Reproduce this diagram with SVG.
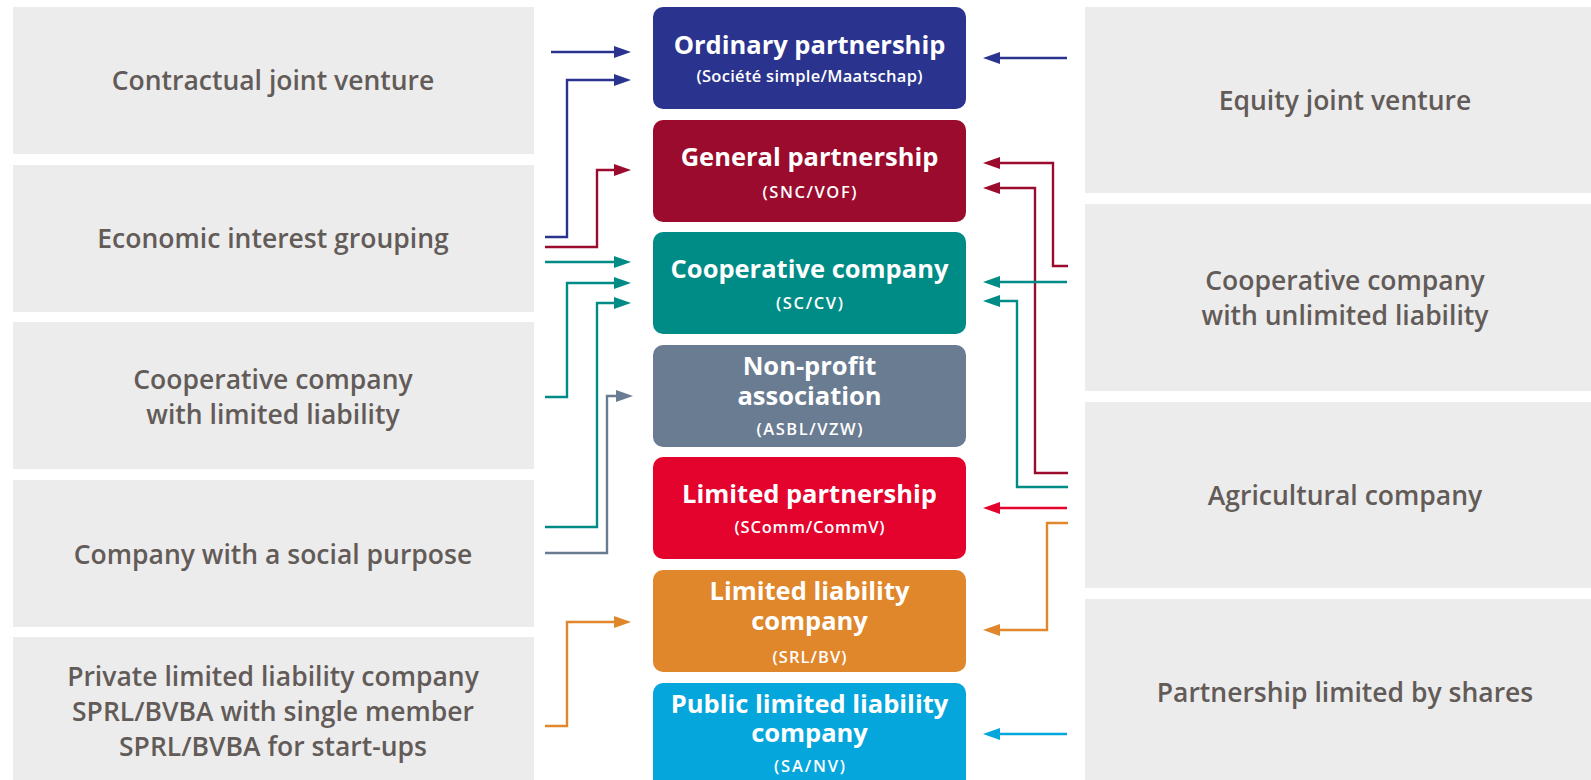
<svg xmlns="http://www.w3.org/2000/svg" width="1591" height="780" viewBox="0 0 1591 780">
  <style>
    .side { fill: #ececec; }
    .side-text { font-family: "Open Sans", "Noto Sans", sans-serif; font-weight: 600; font-size: 26.5px; fill: #625b58; text-anchor: middle; }
    .form-title { font-family: "Open Sans", "Noto Sans", sans-serif; font-weight: 700; font-size: 25.5px; fill: #ffffff; text-anchor: middle; }
    .form-sub { font-family: "Open Sans", "Noto Sans", sans-serif; font-weight: 600; font-size: 16.5px; fill: #ffffff; text-anchor: middle; }
    .link { fill: none; stroke-width: 2.4; }
    .c-blue { stroke: #2a348e; }
    .c-wine { stroke: #9a0b2d; }
    .c-teal { stroke: #008c86; }
    .c-slate { stroke: #6a7c92; }
    .c-red { stroke: #e3032d; }
    .c-orange { stroke: #e0862b; }
    .c-cyan { stroke: #05a6dc; }
  </style>
  <defs>
    <marker id="ah-blue" viewBox="0 0 17 12" refX="0" refY="6" markerWidth="17" markerHeight="12" markerUnits="userSpaceOnUse" orient="auto"><path d="M0,0 L17,6 L0,12 z" fill="#2a348e"/></marker>
    <marker id="ah-wine" viewBox="0 0 17 12" refX="0" refY="6" markerWidth="17" markerHeight="12" markerUnits="userSpaceOnUse" orient="auto"><path d="M0,0 L17,6 L0,12 z" fill="#9a0b2d"/></marker>
    <marker id="ah-teal" viewBox="0 0 17 12" refX="0" refY="6" markerWidth="17" markerHeight="12" markerUnits="userSpaceOnUse" orient="auto"><path d="M0,0 L17,6 L0,12 z" fill="#008c86"/></marker>
    <marker id="ah-slate" viewBox="0 0 17 12" refX="0" refY="6" markerWidth="17" markerHeight="12" markerUnits="userSpaceOnUse" orient="auto"><path d="M0,0 L17,6 L0,12 z" fill="#6a7c92"/></marker>
    <marker id="ah-red" viewBox="0 0 17 12" refX="0" refY="6" markerWidth="17" markerHeight="12" markerUnits="userSpaceOnUse" orient="auto"><path d="M0,0 L17,6 L0,12 z" fill="#e3032d"/></marker>
    <marker id="ah-orange" viewBox="0 0 17 12" refX="0" refY="6" markerWidth="17" markerHeight="12" markerUnits="userSpaceOnUse" orient="auto"><path d="M0,0 L17,6 L0,12 z" fill="#e0862b"/></marker>
    <marker id="ah-cyan" viewBox="0 0 17 12" refX="0" refY="6" markerWidth="17" markerHeight="12" markerUnits="userSpaceOnUse" orient="auto"><path d="M0,0 L17,6 L0,12 z" fill="#05a6dc"/></marker>
  </defs>

  <rect width="1591" height="780" fill="#ffffff"/>

  <!-- Left column: source forms -->
  <g id="contractual-jv">
    <rect class="side" x="13" y="7" width="521" height="147"/>
    <text class="side-text" x="273" y="90">Contractual joint venture</text>
  </g>
  <g id="eig">
    <rect class="side" x="13" y="165" width="521" height="147"/>
    <text class="side-text" x="273" y="248">Economic interest grouping</text>
  </g>
  <g id="coop-limited">
    <rect class="side" x="13" y="322" width="521" height="147"/>
    <text class="side-text" x="273" y="389">Cooperative company<tspan x="273" dy="35">with limited liability</tspan></text>
  </g>
  <g id="social-purpose">
    <rect class="side" x="13" y="480" width="521" height="147"/>
    <text class="side-text" x="273" y="564">Company with a social purpose</text>
  </g>
  <g id="private-llc">
    <rect class="side" x="13" y="637" width="521" height="150"/>
    <text class="side-text" x="273" y="686">Private limited liability company<tspan x="273" dy="35">SPRL/BVBA with single member</tspan><tspan x="273" dy="35">SPRL/BVBA for start-ups</tspan></text>
  </g>

  <!-- Right column: source forms -->
  <g id="equity-jv">
    <rect class="side" x="1085" y="7" width="520" height="186"/>
    <text class="side-text" x="1345" y="110">Equity joint venture</text>
  </g>
  <g id="coop-unlimited">
    <rect class="side" x="1085" y="204" width="520" height="187"/>
    <text class="side-text" x="1345" y="290">Cooperative company<tspan x="1345" dy="35">with unlimited liability</tspan></text>
  </g>
  <g id="agricultural">
    <rect class="side" x="1085" y="402" width="520" height="186"/>
    <text class="side-text" x="1345" y="505">Agricultural company</text>
  </g>
  <g id="partnership-shares">
    <rect class="side" x="1085" y="599" width="520" height="190"/>
    <text class="side-text" x="1345" y="702">Partnership limited by shares</text>
  </g>

  <!-- Centre column: target forms -->
  <g id="ordinary-partnership">
    <rect x="653" y="7" width="313" height="102" rx="10" fill="#2a348e"/>
    <text class="form-title" x="809.5" y="54">Ordinary partnership</text>
    <text class="form-sub" x="809.5" y="82" textLength="226">(Société simple/Maatschap)</text>
  </g>
  <g id="general-partnership">
    <rect x="653" y="120" width="313" height="102" rx="10" fill="#9a0b2d"/>
    <text class="form-title" x="809.5" y="166">General partnership</text>
    <text class="form-sub" x="809.5" y="198" textLength="94">(SNC/VOF)</text>
  </g>
  <g id="cooperative-company">
    <rect x="653" y="232" width="313" height="102" rx="10" fill="#008c86"/>
    <text class="form-title" x="809.5" y="278">Cooperative company</text>
    <text class="form-sub" x="809.5" y="309" textLength="67">(SC/CV)</text>
  </g>
  <g id="non-profit">
    <rect x="653" y="345" width="313" height="102" rx="10" fill="#6a7c92"/>
    <text class="form-title" x="809.5" y="375">Non-profit<tspan x="809.5" dy="30">association</tspan></text>
    <text class="form-sub" x="809.5" y="435" textLength="106">(ASBL/VZW)</text>
  </g>
  <g id="limited-partnership">
    <rect x="653" y="457" width="313" height="102" rx="10" fill="#e3032d"/>
    <text class="form-title" x="809.5" y="503">Limited partnership</text>
    <text class="form-sub" x="809.5" y="533" textLength="150">(SComm/CommV)</text>
  </g>
  <g id="limited-liability">
    <rect x="653" y="570" width="313" height="102" rx="10" fill="#e0862b"/>
    <text class="form-title" x="809.5" y="600">Limited liability<tspan x="809.5" dy="30">company</tspan></text>
    <text class="form-sub" x="809.5" y="663" textLength="74">(SRL/BV)</text>
  </g>
  <g id="public-limited">
    <rect x="653" y="683" width="313" height="110" rx="10" fill="#05a6dc"/>
    <text class="form-title" x="809.5" y="713">Public limited liability<tspan x="809.5" dy="29">company</tspan></text>
    <text class="form-sub" x="809.5" y="772" textLength="71">(SA/NV)</text>
  </g>

  <!-- Connectors -->
  <g id="connectors">
    <path class="link c-blue" d="M551,52 H614" marker-end="url(#ah-blue)"/>
    <path class="link c-blue" d="M545,237 H567 V80 H614" marker-end="url(#ah-blue)"/>
    <path class="link c-wine" d="M545,247 H597 V170 H614" marker-end="url(#ah-wine)"/>
    <path class="link c-teal" d="M545,262 H614" marker-end="url(#ah-teal)"/>
    <path class="link c-teal" d="M545,397 H567 V283 H614" marker-end="url(#ah-teal)"/>
    <path class="link c-teal" d="M545,527 H597 V303 H614" marker-end="url(#ah-teal)"/>
    <path class="link c-slate" d="M545,553 H607 V396 H616" marker-end="url(#ah-slate)"/>
    <path class="link c-orange" d="M545,726 H567 V622 H614" marker-end="url(#ah-orange)"/>

    <path class="link c-blue" d="M1067,58 H1000" marker-end="url(#ah-blue)"/>
    <path class="link c-wine" d="M1068,266 H1053 V163 H1000" marker-end="url(#ah-wine)"/>
    <path class="link c-wine" d="M1068,473 H1035 V188 H1000" marker-end="url(#ah-wine)"/>
    <path class="link c-teal" d="M1067,282 H1000" marker-end="url(#ah-teal)"/>
    <path class="link c-teal" d="M1068,487 H1017 V301 H1000" marker-end="url(#ah-teal)"/>
    <path class="link c-red" d="M1067,508 H1000" marker-end="url(#ah-red)"/>
    <path class="link c-orange" d="M1068,523 H1047 V630 H1000" marker-end="url(#ah-orange)"/>
    <path class="link c-cyan" d="M1067,734 H1000" marker-end="url(#ah-cyan)"/>
  </g>
</svg>
